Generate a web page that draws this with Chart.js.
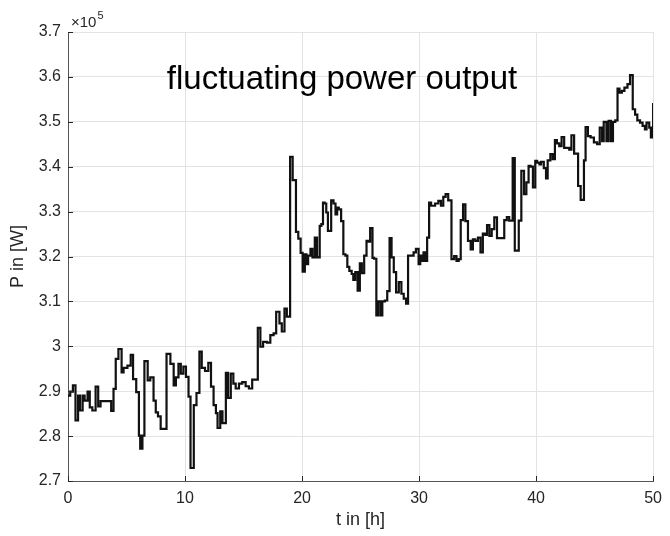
<!DOCTYPE html>
<html><head><meta charset="utf-8">
<script src="https://cdn.jsdelivr.net/npm/chart.js@4/dist/chart.umd.min.js"></script>
<style>html,body{margin:0;padding:0;background:#fff;overflow:hidden}</style>
</head><body>
<canvas id="c" width="670" height="536"></canvas>
<script>
// time [h]
const tHours = [
0,0.19,0.42,0.64,0.86,1.03,1.25,1.42,1.67,1.86,
2.08,2.36,2.58,2.78,3.69,3.89,4.08,4.31,4.58,4.75,
5.08,5.36,5.56,5.83,6.06,6.17,6.36,6.53,6.81,7.03,
7.31,7.50,7.69,7.92,8.42,8.75,9.03,9.22,9.44,9.64,
9.86,10.08,10.30,10.47,10.75,10.98,11.23,11.43,11.71,11.99,
12.22,12.44,12.64,12.78,13.01,13.20,13.49,13.68,13.91,14.13,
14.33,14.61,14.89,15.18,15.46,15.74,16.22,16.44,16.67,17.00,
17.29,17.57,17.79,18.07,18.27,18.50,18.70,18.98,19.20,19.48,
19.68,19.88,20.05,20.24,20.38,20.52,20.72,20.89,21.09,21.28,
21.51,21.65,21.79,21.93,22.07,22.21,22.49,22.69,22.86,23.00,
23.14,23.34,23.53,23.71,23.87,24.04,24.24,24.38,24.55,24.75,
24.94,25.11,25.31,25.51,25.68,25.82,26.02,26.16,26.35,26.52,
26.72,26.86,27.08,27.28,27.48,27.65,27.84,28.04,28.27,28.49,
28.69,28.89,29.06,29.53,29.73,29.96,30.10,30.24,30.38,30.52,
30.69,30.86,31.03,31.37,31.65,31.87,32.07,32.27,32.49,32.77,
33.00,33.20,33.39,33.56,33.76,33.96,34.18,34.41,34.60,34.80,
35.03,35.25,35.45,35.65,35.81,36.01,36.21,36.43,36.66,37.28,
37.50,37.70,38.00,38.18,38.52,38.74,38.97,39.17,39.36,39.53,
39.73,39.93,40.09,40.29,40.43,40.66,40.85,40.99,41.22,41.42,
41.61,41.78,41.98,42.18,42.40,42.83,43.02,43.25,43.59,43.81,
44.09,44.23,44.43,44.66,44.94,45.22,45.44,45.64,45.78,46.01,
46.20,46.40,46.57,46.77,46.96,47.13,47.33,47.55,47.81,48.03,
48.26,48.46,48.65,48.88,49.10,49.30,49.44,49.67,49.81,50.00
];
// P in [W], in units of 1e5 W
const pIn1e5 = [
2.890,2.899,2.913,2.835,2.890,2.857,2.890,2.879,2.899,2.864,
2.857,2.910,2.866,2.878,2.856,2.905,2.972,2.994,2.942,2.952,
2.957,2.981,2.927,2.898,2.801,2.772,2.801,2.967,2.924,2.931,
2.879,2.853,2.844,2.816,2.983,2.961,2.913,2.931,2.961,2.939,
2.955,2.932,2.888,2.729,2.869,2.896,2.988,2.952,2.945,2.963,
2.910,2.869,2.851,2.818,2.855,2.829,2.941,2.885,2.939,2.917,
2.906,2.917,2.920,2.911,2.906,2.926,3.041,2.999,3.010,3.008,
3.025,3.029,3.077,3.051,3.033,3.084,3.066,3.422,3.370,3.255,
3.240,3.208,3.166,3.205,3.183,3.202,3.217,3.198,3.242,3.198,
3.268,3.272,3.320,3.318,3.298,3.257,3.325,3.318,3.294,3.309,
3.305,3.279,3.205,3.202,3.177,3.168,3.161,3.148,3.165,3.124,
3.185,3.163,3.202,3.235,3.233,3.263,3.197,3.195,3.069,3.100,
3.069,3.100,3.102,3.123,3.241,3.198,3.165,3.120,3.143,3.117,
3.106,3.095,3.202,3.209,3.217,3.183,3.202,3.190,3.209,3.190,
3.242,3.320,3.313,3.318,3.324,3.313,3.333,3.339,3.325,3.194,
3.201,3.190,3.194,3.281,3.316,3.279,3.235,3.216,3.238,3.235,
3.242,3.209,3.251,3.248,3.270,3.246,3.261,3.287,3.241,3.281,
3.288,3.280,3.419,3.213,3.280,3.391,3.339,3.365,3.402,3.400,
3.354,3.413,3.409,3.405,3.411,3.397,3.374,3.414,3.428,3.417,
3.459,3.452,3.446,3.466,3.442,3.438,3.470,3.429,3.357,3.326,
3.414,3.488,3.468,3.465,3.454,3.450,3.487,3.457,3.500,3.457,
3.502,3.457,3.500,3.503,3.574,3.565,3.569,3.576,3.584,3.604,
3.528,3.516,3.503,3.498,3.491,3.483,3.498,3.487,3.465,3.542
];
const xTickValues = [0, 10, 20, 30, 40, 50];
const yTickValues = [2.7, 2.8, 2.9, 3.0, 3.1, 3.2, 3.3, 3.4, 3.5, 3.6, 3.7];
const titleText = 'fluctuating power output';
const xTitle = 't in [h]';
const yTitle = 'P in [W]';
const exponentBase = '\u00D710';
const exponentPower = '5';

if (tHours.length !== pIn1e5.length) throw new Error('length mismatch ' + tHours.length + ' vs ' + pIn1e5.length);

const points = tHours.map((t, i) => ({ x: t, y: pIn1e5[i] }));
const FONT = 'Liberation Sans, Arial, Helvetica, sans-serif';
const TXT = '#262626';

const decorPlugin = {
  id: 'decor',
  afterDraw(chart) {
    const ctx = chart.ctx;
    const xs = chart.scales.x, ys = chart.scales.y;
    const ca = chart.chartArea;
    ctx.save();
    // inward tick marks
    ctx.strokeStyle = TXT;
    ctx.lineWidth = 1;
    ctx.beginPath();
    xTickValues.forEach(v => {
      const px = Math.round(xs.getPixelForValue(v)) + 0.5;
      ctx.moveTo(px, ca.bottom); ctx.lineTo(px, ca.bottom - 5);
    });
    yTickValues.forEach(v => {
      const py = Math.round(ys.getPixelForValue(v)) + 0.5;
      ctx.moveTo(ca.left, py); ctx.lineTo(ca.left + 5, py);
    });
    ctx.stroke();
    // exponent label
    ctx.fillStyle = TXT;
    ctx.textBaseline = 'alphabetic';
    ctx.textAlign = 'left';
    ctx.font = '15px ' + FONT;
    ctx.fillText(exponentBase, 71, 27);
    const w = ctx.measureText(exponentBase).width;
    ctx.font = '11px ' + FONT;
    ctx.fillText(exponentPower, 71 + w + 1, 19);
    // in-plot title
    ctx.fillStyle = '#000';
    ctx.font = '33px ' + FONT;
    ctx.textAlign = 'center';
    ctx.fillText(titleText, 342, 89);
    ctx.restore();
  }
};

new Chart(document.getElementById('c'), {
  type: 'line',
  data: {
    datasets: [{
      data: points,
      borderColor: '#111',
      borderWidth: 2.2,
      pointRadius: 0,
      stepped: true,
      fill: false,
      tension: 0
    }]
  },
  options: {
    responsive: false,
    devicePixelRatio: 1,
    animation: false,
    events: [],
    layout: { padding: { top: 32, right: 10, left: 0, bottom: 0 } },
    plugins: { legend: { display: false }, tooltip: { enabled: false }, title: { display: false } },
    scales: {
      x: {
        type: 'linear', min: 0, max: 50,
        afterBuildTicks: s => { s.ticks = xTickValues.map(v => ({ value: v })); },
        afterFit: s => { s.height = 55; },
        grid: { color: '#e3e3e3', drawTicks: false },
        border: { color: '#555', width: 1 },
        ticks: { color: TXT, font: { family: FONT, size: 16 }, padding: 8, maxRotation: 0 },
        title: { display: true, text: xTitle, color: TXT, font: { family: FONT, size: 18 }, padding: { top: 0, bottom: 5 } }
      },
      y: {
        type: 'linear', min: 2.7, max: 3.7,
        afterBuildTicks: s => { s.ticks = yTickValues.map(v => ({ value: v })); },
        afterFit: s => { s.width = 68; },
        grid: { color: '#e3e3e3', drawTicks: false },
        border: { color: '#555', width: 1 },
        ticks: { color: TXT, font: { family: FONT, size: 16 }, padding: 7, callback: v => String(Number(v.toFixed(1))) },
        title: { display: true, text: yTitle, color: TXT, font: { family: FONT, size: 18 }, padding: { top: 7, bottom: 0 } }
      }
    }
  },
  plugins: [decorPlugin]
});
</script>
</body></html>
